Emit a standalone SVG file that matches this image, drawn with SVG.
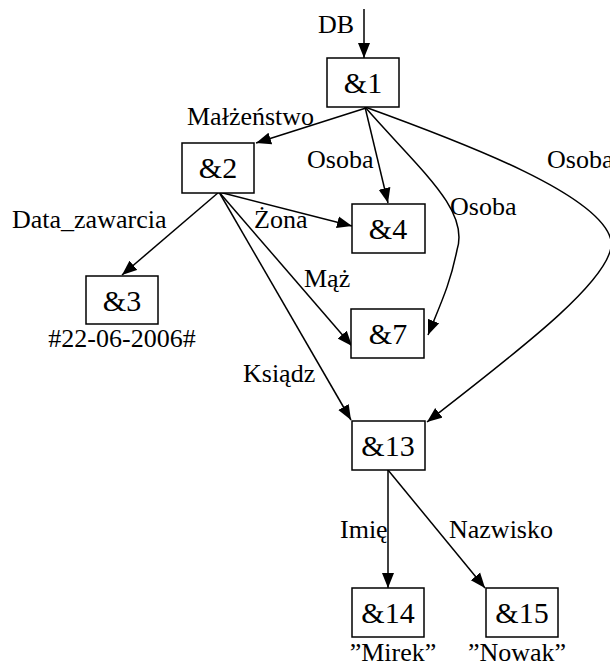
<svg xmlns="http://www.w3.org/2000/svg" width="610" height="664" viewBox="0 0 610 664">
<style>
.box{fill:#fff;stroke:#000;stroke-width:1.5}
.nt{font-family:"Liberation Serif","Times New Roman",serif;font-size:30px;text-anchor:middle;fill:#000}
.lb{font-family:"Liberation Serif","Times New Roman",serif;font-size:26px;fill:#000}
.e{fill:none;stroke:#000;stroke-width:1.5;marker-end:url(#ah)}
</style>
<defs>
<marker id="ah" markerUnits="userSpaceOnUse" markerWidth="16" markerHeight="13" refX="15" refY="6" orient="auto" viewBox="0 0 16 12">
<path d="M0,0 L15,6 L0,12 Z" fill="#000"/>
</marker>
</defs>
<g id="edges">
<path class="e" d="M364,9 L364,58"/>
<path class="e" d="M366,108 L256,143"/>
<path class="e" d="M365,107 L388,203"/>
<path class="e" d="M365,107 C420,170 470,210 457,250 C450,285 440,305 428,335"/>
<path class="e" d="M365,107 C470,145 600,195 611,240 C618,275 520,350 427,422"/>
<path class="e" d="M219,192 L122,275"/>
<path class="e" d="M219,192 L352,226"/>
<path class="e" d="M219,192 L352,346"/>
<path class="e" d="M219,192 L351,420"/>
<path class="e" d="M388,470 L388,588"/>
<path class="e" d="M388,470 L485,588"/>
</g>
<g id="labels">
<text class="lb" x="318" y="33">DB</text>
<text class="lb" x="187" y="125">Małżeństwo</text>
<text class="lb" x="307" y="168">Osoba</text>
<text class="lb" x="450" y="215">Osoba</text>
<text class="lb" x="547" y="168">Osoba</text>
<text class="lb" x="12" y="228">Data_zawarcia</text>
<text class="lb" x="254" y="228">Żona</text>
<text class="lb" x="304" y="287">Mąż</text>
<text class="lb" x="243" y="382">Ksiądz</text>
<text class="lb" x="340" y="538">Imię</text>
<text class="lb" x="449" y="538">Nazwisko</text>
</g>
<g id="n1"><rect class="box" x="327" y="58" width="72" height="49"/><text class="nt" x="363" y="93">&amp;1</text></g>
<g id="n2"><rect class="box" x="182" y="143" width="72" height="50"/><text class="nt" x="218" y="178">&amp;2</text></g>
<g id="n3"><rect class="box" x="86" y="276" width="72" height="48"/><text class="nt" x="122" y="311">&amp;3</text><text class="lb" x="122" y="347" text-anchor="middle">#22-06-2006#</text></g>
<g id="n4"><rect class="box" x="352" y="204" width="73" height="49"/><text class="nt" x="388" y="239">&amp;4</text></g>
<g id="n7"><rect class="box" x="351" y="309" width="73" height="49"/><text class="nt" x="388" y="344">&amp;7</text></g>
<g id="n13"><rect class="box" x="352" y="421" width="73" height="49"/><text class="nt" x="388" y="456">&amp;13</text></g>
<g id="n14"><rect class="box" x="352" y="588" width="72" height="49"/><text class="nt" x="388" y="623">&amp;14</text><text class="lb" x="393" y="661" text-anchor="middle">”Mirek”</text></g>
<g id="n15"><rect class="box" x="486" y="588" width="72" height="49"/><text class="nt" x="522" y="623">&amp;15</text><text class="lb" x="517" y="661" text-anchor="middle">”Nowak”</text></g>
</svg>
